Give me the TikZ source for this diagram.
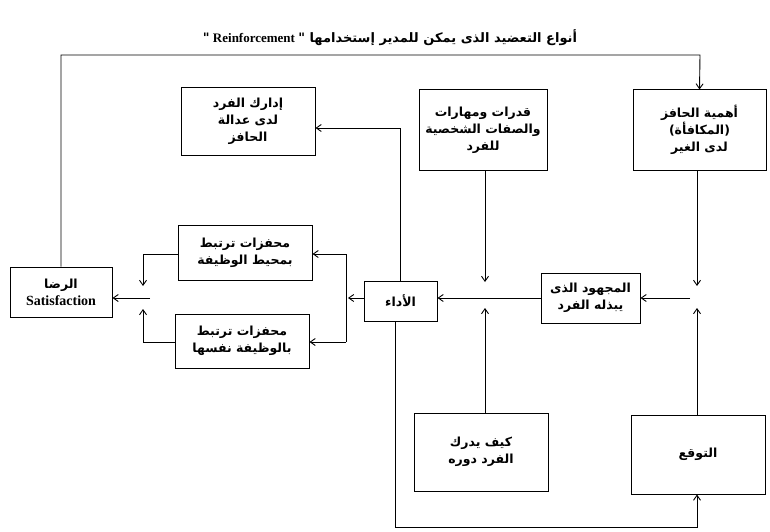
\documentclass[tikz,border=0pt]{standalone}
\usepackage{fontspec}
\usetikzlibrary{arrows.meta}
\newfontfamily\arabicfont[Script=Arabic]{DejaVu Sans}
\newfontfamily\latfont{Liberation Serif}
\TeXXeTstate=1
\newcommand{\ar}[1]{{\arabicfont\bfseries\beginR #1\endR}}
\tikzset{
 bx/.style={draw,line width=1pt,align=center,inner sep=2pt,font=\fontsize{12.5}{17}\selectfont},
 ln/.style={line width=0.9pt},
 ar/.style={line width=0.9pt,-{Straight Barb[length=5pt,width=7pt]}}
}
\begin{document}
\begin{tikzpicture}[x=1pt,y=-1pt]
\useasboundingbox (0,0) rectangle (770,532);
\node[font=\fontsize{13}{15}\selectfont] (title) at (390,38) {\ar{أنواع التعضيد الذى يمكن للمدير إستخدامها "\beginL{\latfont\bfseries\ Reinforcement\ }\endL"}};
\node[bx,minimum width=133,minimum height=80] (ahm) at (699.5,130) {\ar{أهمية الحافز}\\\ar{(المكافأة)}\\\ar{لدى الغير}};
\node[bx,minimum width=128,minimum height=80] (qud) at (483,130) {\ar{قدرات ومهارات}\\\ar{والصفات الشخصية}\\\ar{للفرد}};
\node[bx,minimum width=134,minimum height=67] (idr) at (248,121.5) {\ar{إدارك الفرد}\\\ar{لدى عدالة}\\\ar{الحافز}};
\node[bx,minimum width=134,minimum height=55] (muh) at (245,252.5) {\ar{محفزات ترتبط}\\\ar{بمحيط الوظيفة}};
\node[bx,minimum width=134,minimum height=54] (naf) at (242,341) {\ar{محفزات ترتبط}\\\ar{بالوظيفة نفسها}};
\node[bx,minimum width=102,minimum height=50] (sat) at (61,292) {\ar{الرضا}\\{\latfont\bfseries\fontsize{14}{17}\selectfont Satisfaction}};
\node[bx,minimum width=73,minimum height=40] (ada) at (400.5,301) {\ar{الأداء}};
\node[bx,minimum width=99,minimum height=50] (maj) at (590.5,298) {\ar{المجهود الذى}\\\ar{يبذله الفرد}};
\node[bx,minimum width=134,minimum height=78] (kay) at (481,452) {\ar{كيف يدرك}\\\ar{الفرد دوره}};
\node[bx,minimum width=134,minimum height=79] (taw) at (698,454.5) {\ar{التوقع}};
\coordinate (m1) at (485,298);
\coordinate (m2) at (697,298);
% main line
\draw[ar] (maj.west) -- (ada.east |- maj.west);
\draw[ar] (690,298) -- (maj.east);
\draw[ar] (qud.south -| m1) -- (485,282);
\draw[ar] (kay.north -| m1) -- (485,308);
\draw[ar] (ahm.south -| m2) -- (697,286);
\draw[ar] (taw.north -| m2) -- (697,308);
% feedback to top
\draw[ar] (sat.north) -- (61,55) -- (700,55) -- (ahm.north);
% bottom loop
\draw[ar] (ada.south -| 395,0) -- (395,527) -- (697,527) -- (taw.south -| m2);
% to idrak
\draw[ar] (ada.north) -- (400.5,128) -- (idr.east |- 0,128);
% bracket
\draw[ar] (ada.west |- 0,298) -- (348,298);
\draw[ln] (346,254) -- (346,342);
\draw[ar] (346,254) -- (muh.east |- 0,254);
\draw[ar] (346,342) -- (naf.east |- 0,342);
\draw[ar] (muh.west |- 0,254) -- (143,254) -- (143,286);
\draw[ar] (naf.west |- 0,342) -- (143,342) -- (143,309);
\draw[ar] (150,298) -- (sat.east |- 0,298);
\end{tikzpicture}
\end{document}
